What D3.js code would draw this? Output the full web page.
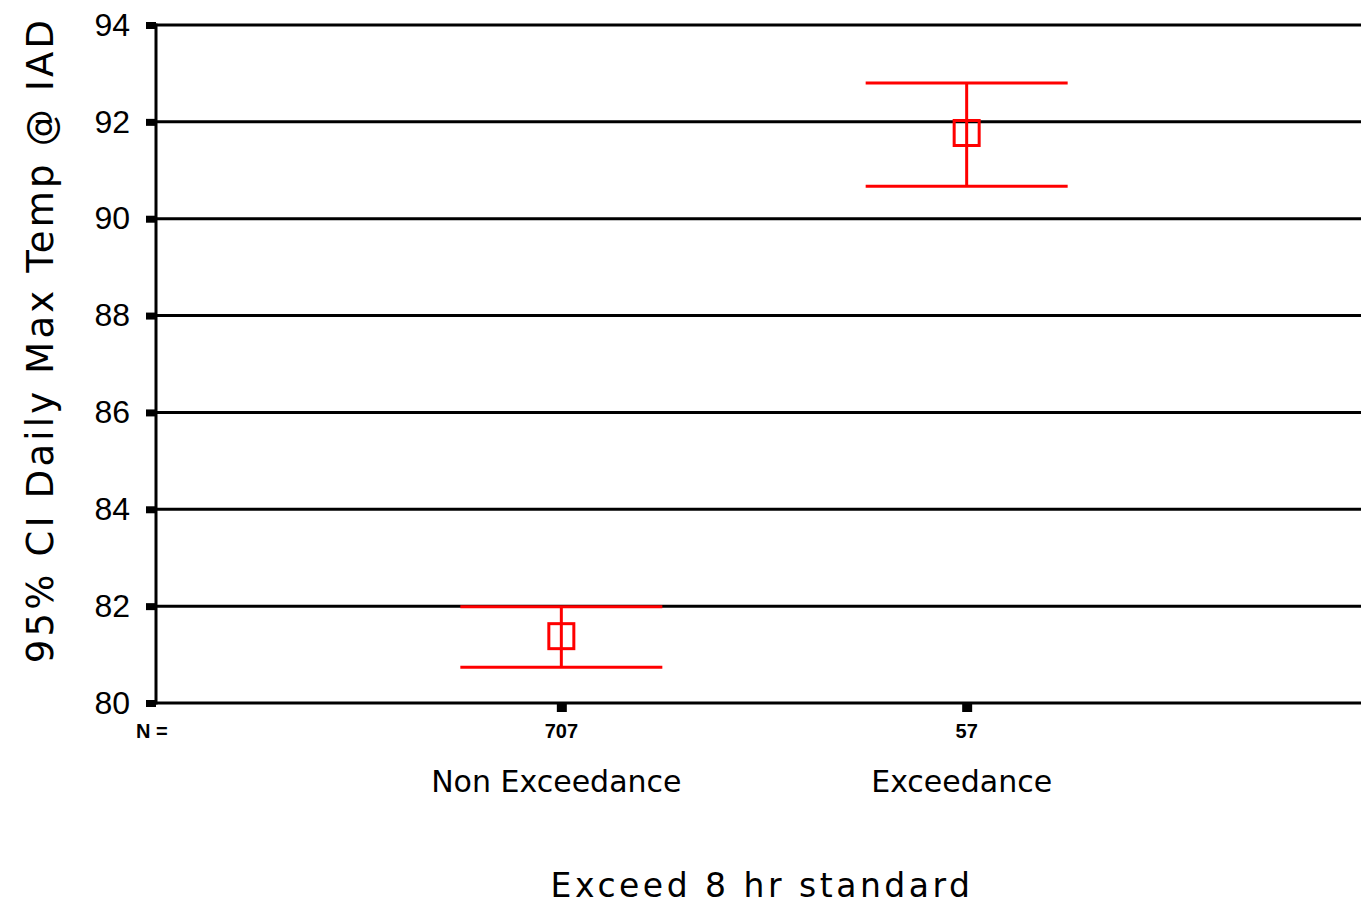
<!DOCTYPE html>
<html>
<head>
<meta charset="utf-8">
<script src="https://cdn.jsdelivr.net/npm/d3@7"></script>
<style>
body { margin: 0; background: #fff; }
svg { display: block; }
.grid line { stroke: #000; stroke-width: 3; }
.axis path { display: none; }
.y.axis .tick line { stroke: #000; stroke-width: 7; }
.x.axis .tick line { stroke: #000; stroke-width: 10; }
.y.axis text { font-family: "Liberation Sans", Arial, sans-serif; font-size: 32px; fill: #000; }
.ntext { font-family: "Liberation Sans Narrow", "Liberation Sans", sans-serif; font-weight: bold; font-size: 20px; }
.cat { font-family: "DejaVu Sans", sans-serif; font-size: 30px; }
.title { font-family: "DejaVu Sans", sans-serif; }
</style>
</head>
<body>
<script>
var categories = ["Non Exceedance", "Exceedance"];
var nCounts = ["707", "57"];
var means = [81.38, 91.77];
var lowerCI = [80.74, 90.67];
var upperCI = [81.99, 92.80];
var yTicks = [80, 82, 84, 86, 88, 90, 92, 94];

var width = 1361, height = 913;

var svg = d3.select("body")
    .append("svg")
    .attr("width", width)
    .attr("height", height);

var x = d3.scalePoint()
    .domain(categories)
    .range([156, 1372])
    .padding(1);

var y = d3.scaleLinear()
    .domain([80, 94])
    .range([703, 25]);

// horizontal grid lines
svg.append("g")
    .attr("class", "grid")
    .selectAll("line")
    .data(yTicks)
    .enter().append("line")
    .attr("x1", 156)
    .attr("x2", width)
    .attr("y1", function(d){ return y(d); })
    .attr("y2", function(d){ return y(d); });

// left axis line
svg.append("line")
    .attr("x1", 156).attr("x2", 156)
    .attr("y1", y(94) - 1.5).attr("y2", y(80) + 1.5)
    .attr("stroke", "#000")
    .attr("stroke-width", 3);

svg.append("g")
    .attr("class", "y axis")
    .attr("transform", "translate(156,0)")
    .call(d3.axisLeft(y).tickValues(yTicks).tickSize(10).tickPadding(16));

svg.append("g")
    .attr("class", "x axis")
    .attr("transform", "translate(0," + y(80) + ")")
    .call(d3.axisBottom(x).tickSize(9).tickFormat(""));

// N counts
svg.append("text")
    .attr("class", "ntext")
    .attr("x", 136)
    .attr("y", 738)
    .text("N =");

svg.selectAll(".ncount")
    .data(categories)
    .enter().append("text")
    .attr("class", "ntext ncount")
    .attr("x", function(d){ return x(d); })
    .attr("y", 738)
    .attr("text-anchor", "middle")
    .text(function(d, i){ return nCounts[i]; });

// category labels
svg.selectAll(".cat")
    .data(categories)
    .enter().append("text")
    .attr("class", "cat")
    .attr("x", function(d){ return x(d) - 5; })
    .attr("y", 792)
    .attr("text-anchor", "middle")
    .text(function(d){ return d; });

// error bars
var bars = svg.selectAll(".ci")
    .data(categories)
    .enter().append("g")
    .attr("class", "ci")
    .attr("stroke", "#ff0000")
    .attr("stroke-width", 3)
    .attr("fill", "none");

bars.append("line")
    .attr("x1", function(d){ return x(d); })
    .attr("x2", function(d){ return x(d); })
    .attr("y1", function(d, i){ return y(upperCI[i]); })
    .attr("y2", function(d, i){ return y(lowerCI[i]); });

bars.append("line")
    .attr("x1", function(d){ return x(d) - 101; })
    .attr("x2", function(d){ return x(d) + 101; })
    .attr("y1", function(d, i){ return y(upperCI[i]); })
    .attr("y2", function(d, i){ return y(upperCI[i]); });

bars.append("line")
    .attr("x1", function(d){ return x(d) - 101; })
    .attr("x2", function(d){ return x(d) + 101; })
    .attr("y1", function(d, i){ return y(lowerCI[i]); })
    .attr("y2", function(d, i){ return y(lowerCI[i]); });

bars.append("rect")
    .attr("x", function(d){ return x(d) - 12.5; })
    .attr("y", function(d, i){ return y(means[i]) - 12.5; })
    .attr("width", 25)
    .attr("height", 25);

// axis titles
svg.append("text")
    .attr("class", "title")
    .attr("x", 762)
    .attr("y", 897)
    .attr("text-anchor", "middle")
    .style("font-size", "33px")
    .style("letter-spacing", "3.5px")
    .text("Exceed 8 hr standard");

svg.append("text")
    .attr("class", "title")
    .attr("transform", "translate(53,340) rotate(-90)")
    .attr("text-anchor", "middle")
    .style("font-size", "37px")
    .style("letter-spacing", "3.2px")
    .text("95% CI Daily Max Temp @ IAD");
</script>
</body>
</html>
